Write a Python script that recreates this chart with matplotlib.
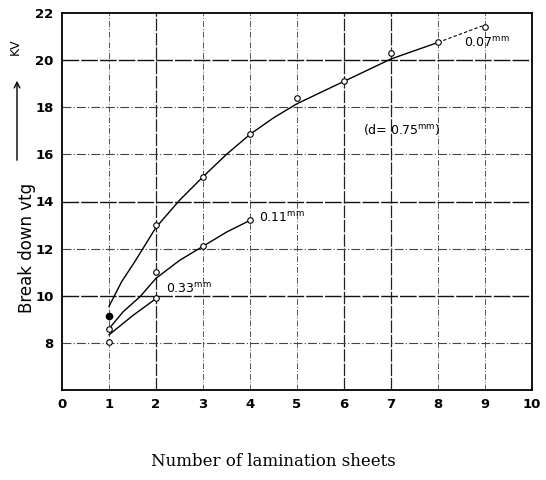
import matplotlib.pyplot as plt

# measured points (number of sheets -> breakdown voltage, kV)
sheets_007 = [1, 2, 3, 4, 5, 6, 7, 8, 9]
kv_007 = [9.15, 13.0, 15.05, 16.85, 18.4, 19.1, 20.3, 20.75, 21.4]
sheets_011 = [1, 2, 3, 4]
kv_011 = [8.6, 11.0, 12.1, 13.2]
sheets_033 = [1, 2]
kv_033 = [8.05, 9.9]

# hand drawn curves
curve_x_007 = [1, 1.27, 1.55, 2, 2.5, 3, 3.5, 4, 4.5, 5, 6, 7, 8]
curve_y_007 = [9.55, 10.6, 11.45, 12.9, 14.05, 15.05, 16.0, 16.85, 17.55, 18.15,
               19.1, 20.05, 20.75]
dash_x_007 = [8, 8.94]
dash_y_007 = [20.75, 21.45]
curve_x_011 = [1, 1.3, 1.66, 2, 2.5, 3, 3.5, 4]
curve_y_011 = [8.6, 9.32, 9.96, 10.74, 11.5, 12.1, 12.7, 13.2]
curve_x_033 = [1, 1.5, 2]
curve_y_033 = [8.34, 9.15, 9.88]

x_ticks = list(range(0, 11))
y_ticks = [8, 10, 12, 14, 16, 18, 20, 22]
heavy_x = [2, 6, 7]
heavy_y = [10, 14, 20]

fig = plt.figure(figsize=(5.46, 4.8), dpi=100)
ax = fig.add_axes([62 / 546, 1 - 390 / 480, 470 / 546, 377 / 480])

for x in range(1, 10):
    if x in heavy_x:
        ax.axvline(x, color="#222222", lw=0.9, ls=(0, (10, 1.5)), zorder=1)
    else:
        ax.axvline(x, color="#555555", lw=0.7, ls=(0, (6, 2, 1, 2)), zorder=1)
for y in range(8, 22, 2):
    if y in heavy_y:
        ax.axhline(y, color="#111111", lw=1.0, ls=(0, (12, 1.5)), zorder=1)
    else:
        ax.axhline(y, color="#444444", lw=0.8, ls=(0, (8, 2, 1, 2)), zorder=1)

ax.plot(curve_x_007, curve_y_007, color="black", lw=1.0, zorder=2)
ax.plot(dash_x_007, dash_y_007, color="black", lw=0.8, ls=(0, (3, 2)), zorder=2)
ax.plot(curve_x_011, curve_y_011, color="black", lw=1.0, zorder=2)
ax.plot(curve_x_033, curve_y_033, color="black", lw=1.0, zorder=2)

mk = dict(ls="none", marker="o", ms=4, mfc="white", mec="black", mew=0.8, zorder=3)
ax.plot(sheets_007[1:], kv_007[1:], **mk)
ax.plot(sheets_007[:1], kv_007[:1], ls="none", marker="o", ms=4.5, color="black", zorder=3)
ax.plot(sheets_011, kv_011, **mk)
ax.plot(sheets_033, kv_033, **mk)

ax.text(8.55, 20.75, r"0.07$^{\mathrm{mm}}$", fontsize=9, va="center")
ax.text(4.2, 13.3, r"0.11$^{\mathrm{mm}}$", fontsize=9, va="center")
ax.text(2.22, 10.3, r"0.33$^{\mathrm{mm}}$", fontsize=9, va="center")
ax.text(6.4, 17.05, r"(d= 0.75$^{\mathrm{mm}}$)", fontsize=9, va="center")

ax.set_xlim(0, 10)
ax.set_ylim(6, 22)
ax.set_xticks(x_ticks)
ax.set_yticks(y_ticks)
ax.tick_params(length=0, labelsize=9.5, pad=6)
for lab in ax.get_xticklabels() + ax.get_yticklabels():
    lab.set_fontweight("bold")
for s in ax.spines.values():
    s.set_color("black")
    s.set_linewidth(1.3)

fig.text(27 / 546, 1 - 248 / 480, "Break down vtg", rotation=90, fontsize=12,
         ha="center", va="center")
fig.text(15 / 546, 1 - 47 / 480, "KV", rotation=90, fontsize=9,
         ha="center", va="center")
ax.annotate("", xy=(17 / 546, 1 - 78 / 480), xytext=(17 / 546, 1 - 163 / 480),
            xycoords="figure fraction", textcoords="figure fraction",
            arrowprops=dict(arrowstyle="->", color="black", lw=1.0),
            annotation_clip=False)
fig.text(273 / 546, 1 - 462 / 480, "Number of lamination sheets", fontsize=12,
         family="DejaVu Serif", ha="center", va="center")

fig.savefig("out.png", dpi=100)
